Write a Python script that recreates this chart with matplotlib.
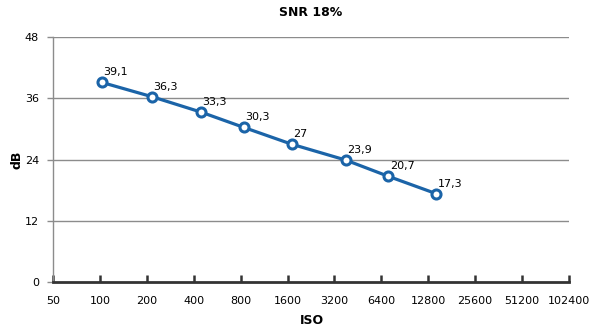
import matplotlib
matplotlib.use("Agg")
import matplotlib.pyplot as plt
import numpy as np

iso_ticks = [50, 100, 200, 400, 800, 1600, 3200, 6400, 12800, 25600, 51200, 102400]
iso_measured = [103, 216, 444, 836, 1700, 3770, 7100, 14400]
snr_db = [39.1, 36.3, 33.3, 30.3, 27.0, 23.9, 20.7, 17.3]
snr_labels = ["39,1", "36,3", "33,3", "30,3", "27", "23,9", "20,7", "17,3"]
y_ticks = [0, 12, 24, 36, 48]

plt.rcParams['font.family'] = ['DejaVu Sans']
fig = plt.figure(figsize=(6, 3.33), dpi=100)
ax = fig.add_axes([53/600, 1-282/333, (569-53)/600, (282-37)/333])

ax.set_xscale('log', base=2)
ax.set_xlim(50, 102400)
ax.set_ylim(0, 48)
ax.set_yticks(y_ticks)
ax.set_yticklabels([str(v) for v in y_ticks], fontsize=8)
ax.set_xticks(iso_ticks)
ax.set_xticklabels([str(v) for v in iso_ticks], fontsize=8)
ax.xaxis.set_minor_locator(matplotlib.ticker.NullLocator())

for v in y_ticks[1:]:
    ax.axhline(v, color='#8c8c8c', lw=1.0, zorder=1)

for s in ['top', 'right']:
    ax.spines[s].set_visible(False)
ax.spines['left'].set_color('#8c8c8c')
ax.spines['left'].set_linewidth(1.0)
ax.spines['bottom'].set_color('#333333')
ax.spines['bottom'].set_linewidth(2.0)
ax.tick_params(axis='x', direction='in', length=5, width=1.8, color='#333333', pad=10)
ax.tick_params(axis='y', direction='out', length=4, width=1, color='#8c8c8c', pad=6)

ax.plot(iso_measured, snr_db, color='#1B64A8', lw=2.3, marker='o', ms=6.5,
        mfc='white', mec='#1B64A8', mew=2.2, zorder=3, clip_on=False)
for x, y, t in zip(iso_measured, snr_db, snr_labels):
    ax.annotate(t, (x, y), xytext=(1, 5), textcoords='offset points',
                fontsize=8, color='black', zorder=4)

fig.text(311/600, 1-12/333, "SNR 18%", ha='center', va='center', fontsize=9, fontweight='bold')
fig.text(312/600, 1-321/333, "ISO", ha='center', va='center', fontsize=9, fontweight='bold')
fig.text(17/600, 1-160/333, "dB", ha='center', va='center', fontsize=9, fontweight='bold', rotation=90)

fig.savefig("out.png", dpi=100)
